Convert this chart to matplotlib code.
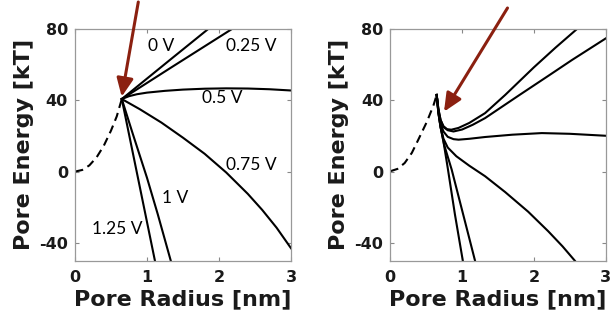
import matplotlib
matplotlib.use("Agg")
import matplotlib.pyplot as plt
from matplotlib.patches import FancyArrowPatch

# ---- data ----
# Left panel
L_dash_r = [0.0, 0.1, 0.2, 0.3, 0.4, 0.5, 0.58, 0.65]
L_dash_E = [0.0, 0.9, 3.5, 8.0, 14.5, 23.0, 31.0, 40.7]

L_0V_r = [0.65, 1.32, 1.85]
L_0V_E = [40.7, 62.7, 80.0]
L_025V_r = [0.65, 1.32, 2.18]
L_025V_E = [40.7, 58.0, 80.0]
L_05V_r = [0.65, 0.75, 0.86, 1.0, 1.25, 1.5, 1.8, 2.1, 2.4, 2.7, 3.0]
L_05V_E = [40.7, 42.3, 43.4, 44.3, 45.3, 46.0, 46.5, 46.7, 46.6, 46.2, 45.5]
L_075V_r = [0.65, 0.9, 1.2, 1.5, 1.8, 2.1, 2.4, 2.6, 2.8, 3.0]
L_075V_E = [40.7, 35.0, 27.5, 19.0, 10.0, -0.5, -12.5, -21.5, -31.5, -43.0]
L_1V_r = [0.65, 0.8, 1.0, 1.15, 1.33]
L_1V_E = [40.7, 21.5, -3.5, -24.0, -50.0]
L_125V_r = [0.65, 1.11]
L_125V_E = [40.7, -50.0]

labels_text = ["0 V", "0.25 V", "0.5 V", "0.75 V", "1 V", "1.25 V"]
labels_r = [1.20, 2.45, 2.04, 2.45, 1.39, 0.58]
labels_E = [70.2, 70.2, 41.2, 3.5, -15.1, -32.0]

# Right panel
R_dash_r = [0.0, 0.1, 0.2, 0.3, 0.39, 0.51, 0.6, 0.646]
R_dash_E = [0.2, 1.5, 4.8, 10.5, 17.9, 28.0, 37.0, 43.0]

R_A_r = [0.646, 0.67, 0.70, 0.74, 0.79, 0.85, 0.95, 1.1, 1.32, 1.6, 2.0, 2.3, 2.6]
R_A_E = [43.0, 35.0, 29.0, 25.5, 23.8, 23.5, 24.5, 27.3, 32.8, 43.0, 58.5, 69.5, 80.0]
R_B_r = [0.646, 0.67, 0.70, 0.74, 0.80, 0.88, 1.0, 1.15, 1.32, 1.8, 2.2, 2.53, 3.0]
R_B_E = [43.0, 35.0, 29.0, 25.0, 23.2, 22.5, 23.6, 26.3, 30.0, 43.0, 53.7, 62.6, 74.7]
R_C_r = [0.646, 0.67, 0.70, 0.74, 0.80, 0.88, 0.95, 1.1, 1.32, 1.7, 2.11, 2.5, 3.0]
R_C_E = [43.0, 34.0, 27.0, 22.5, 19.5, 18.2, 17.9, 18.4, 19.4, 20.7, 21.6, 21.2, 20.1]
R_D_r = [0.646, 0.67, 0.70, 0.74, 0.80, 0.92, 1.1, 1.32, 1.6, 1.92, 2.2, 2.4, 2.57]
R_D_E = [43.0, 33.0, 25.0, 18.5, 13.5, 8.6, 3.3, -2.6, -11.5, -22.5, -33.5, -42.0, -50.0]
R_E_r = [0.646, 0.67, 0.70, 0.75, 0.855, 0.9, 1.0, 1.1, 1.18]
R_E_E = [43.0, 33.0, 25.0, 15.0, 1.1, -6.0, -21.7, -37.4, -50.0]
R_F_r = [0.646, 0.67, 0.70, 0.74, 0.8, 0.9, 1.01]
R_F_E = [43.0, 33.0, 25.0, 17.0, 2.0, -24.0, -50.0]

xticks = [0, 1, 2, 3]
yticks = [-40, 0, 40, 80]

# ---- figure ----
fig = plt.figure(figsize=(6.16, 3.2), dpi=100)
axL = fig.add_axes([75/616, 1-260.7/320, 216/616, 231.7/320])
axR = fig.add_axes([390.3/616, 1-260.7/320, 215.4/616, 231.7/320])

lw = 1.5
dash = (0, (4, 2.5))
axL.plot(L_dash_r, L_dash_E, color="black", lw=lw, linestyle=dash)
for r, e in [(L_0V_r, L_0V_E), (L_025V_r, L_025V_E), (L_05V_r, L_05V_E),
             (L_075V_r, L_075V_E), (L_1V_r, L_1V_E), (L_125V_r, L_125V_E)]:
    axL.plot(r, e, color="black", lw=lw, solid_joinstyle="round")
for t, r, e in zip(labels_text, labels_r, labels_E):
    axL.text(r, e, t, ha="center", va="center", fontsize=12.5,
             family=["Lato", "DejaVu Sans"], color="black")

axR.plot(R_dash_r, R_dash_E, color="black", lw=lw, linestyle=dash)
for r, e in [(R_A_r, R_A_E), (R_B_r, R_B_E), (R_C_r, R_C_E),
             (R_D_r, R_D_E), (R_E_r, R_E_E), (R_F_r, R_F_E)]:
    axR.plot(r, e, color="black", lw=lw, solid_joinstyle="round")

for ax in (axL, axR):
    ax.set_xlim(0, 3)
    ax.set_ylim(-50, 80)
    ax.set_xticks(xticks)
    ax.set_yticks(yticks)
    ax.set_xticklabels([str(v) for v in xticks], fontsize=11.5, fontweight="bold", color="#1a1a1a")
    ax.set_yticklabels([str(v) for v in yticks], fontsize=11.5, fontweight="bold", color="#1a1a1a")
    ax.tick_params(direction="in", length=3, width=0.8, color="#888888",
                   top=True, right=True)
    ax.tick_params(axis="x", pad=7)
    ax.tick_params(axis="y", pad=5)
    for s in ax.spines.values():
        s.set_color("#999999")
        s.set_linewidth(0.9)
    ax.set_xlabel("Pore Radius [nm]", fontsize=16, fontweight="bold", color="#1a1a1a", labelpad=3)
    ax.set_ylabel("Pore Energy [kT]", fontsize=16, fontweight="bold", color="#1a1a1a", labelpad=4)

# arrows (figure pixel coordinates -> figure fraction)
arrow_color = "#8B2010"
def fig_arrow(x0, y0, x1, y1):
    fig.add_artist(FancyArrowPatch(
        (x0/616, 1-y0/320), (x1/616, 1-y1/320), transform=fig.transFigure,
        arrowstyle="-|>,head_length=11,head_width=5", color=arrow_color,
        lw=2.2, shrinkA=0, shrinkB=0, mutation_scale=1))

fig_arrow(138.3, 2, 121.7, 96.7)
fig_arrow(507.5, 8, 444, 111.7)

fig.savefig("out.png", dpi=100, facecolor="white")
